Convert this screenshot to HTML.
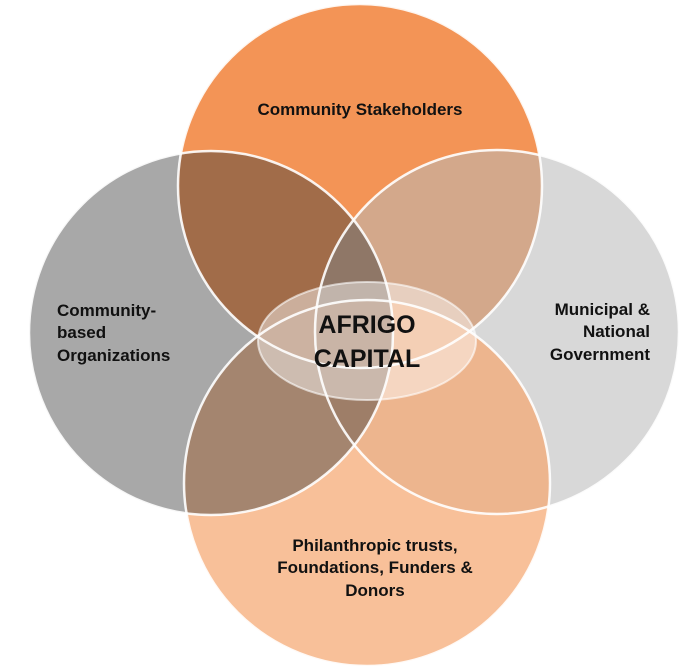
<!DOCTYPE html>
<html><head><style>
html,body{margin:0;padding:0;background:#fff;width:694px;height:672px;overflow:hidden}
svg{display:block}
text{font-family:"Liberation Sans",Arial,sans-serif;font-weight:bold;fill:#111}
</style></head><body>
<svg width="694" height="672" viewBox="0 0 694 672">
<circle cx="360" cy="186" r="182" fill="#F39456"/>
<circle cx="497" cy="332" r="182" fill="#b8b8b8" fill-opacity="0.55"/>
<circle cx="367" cy="483" r="183" fill="#F5A871" fill-opacity="0.72"/>
<circle cx="211" cy="333" r="182" fill="#3a3a3a" fill-opacity="0.44"/>
<g fill="none" stroke="#fff" stroke-width="2.5" stroke-opacity="0.9">
<circle cx="360" cy="186" r="182"/>
<circle cx="211" cy="333" r="182"/>
<circle cx="497" cy="332" r="182"/>
<circle cx="367" cy="483" r="183"/>
</g>
<ellipse cx="367" cy="341" rx="109" ry="59" fill="#fff" fill-opacity="0.45" stroke="#fff" stroke-opacity="0.6" stroke-width="2"/>
<text x="360" y="115" font-size="17" text-anchor="middle">Community Stakeholders</text>
<text font-size="17"><tspan x="57" y="316">Community-</tspan><tspan x="57" y="338">based</tspan><tspan x="57" y="361">Organizations</tspan></text>
<text font-size="17" text-anchor="end"><tspan x="650" y="315">Municipal &amp;</tspan><tspan x="650" y="337">National</tspan><tspan x="650" y="360">Government</tspan></text>
<text font-size="17" text-anchor="middle"><tspan x="375" y="551">Philanthropic trusts,</tspan><tspan x="375" y="573">Foundations, Funders &amp;</tspan><tspan x="375" y="596">Donors</tspan></text>
<text font-size="25" text-anchor="middle"><tspan x="367" y="333">AFRIGO</tspan><tspan x="367" y="367">CAPITAL</tspan></text>
</svg>
</body></html>
